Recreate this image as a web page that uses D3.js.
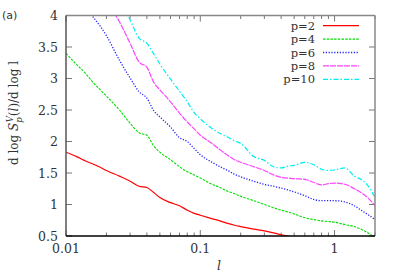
<!DOCTYPE html>
<html><head><meta charset="utf-8">
<script src="https://cdn.jsdelivr.net/npm/d3@7"></script>
<style>body{margin:0;background:#fff}svg{display:block}svg text{font-family:"DejaVu Serif","Liberation Serif",serif}</style>
</head><body>
<svg id="chart" width="399" height="279"></svg>
<script>
const lValues = [0.01,0.012,0.014,0.016,0.018,0.02,0.025,0.03,0.035,0.04,0.045,0.05,0.06,0.07,0.08,0.09,0.1,0.12,0.14,0.16,0.18,0.2,0.25,0.3,0.35,0.4,0.45,0.5,0.6,0.7,0.8,0.9,1.0,1.2,1.4,1.6,1.8,2.0];
const p2  = [1.83,1.76,1.69,1.64,1.59,1.54,1.45,1.37,1.29,1.27,1.19,1.11,1.03,0.98,0.91,0.86,0.83,0.78,0.74,0.70,0.67,0.65,0.61,0.58,0.55,0.52,0.50,0.48,0.45,null,null,null,null,null,null,null,null,null];
const p4  = [3.40,3.22,3.08,2.93,2.82,2.72,2.50,2.29,2.14,2.10,1.93,1.83,1.71,1.60,1.52,1.47,1.42,1.33,1.27,1.21,1.17,1.13,1.06,1.00,0.95,0.91,0.88,0.85,0.79,0.76,0.74,0.73,0.72,0.68,0.65,0.60,0.54,0.48];
const p6  = [null,null,4.12,3.97,3.83,3.68,3.29,3.01,2.79,2.69,2.49,2.39,2.23,2.06,2.00,1.89,1.79,1.68,1.60,1.54,1.48,1.44,1.37,1.32,1.29,1.26,1.23,1.20,1.14,1.08,1.06,1.06,1.06,1.04,0.98,0.90,0.83,0.76];
const p8  = [null,null,null,null,null,4.23,3.90,3.56,3.26,3.18,2.94,2.82,2.63,2.45,2.31,2.20,2.10,1.98,1.87,1.78,1.71,1.67,1.60,1.54,1.47,1.43,1.42,1.41,1.40,1.35,1.31,1.33,1.34,1.32,1.25,1.18,1.09,0.98];
const p10 = [null,null,null,null,null,null,4.27,3.93,3.64,3.56,3.39,3.23,2.99,2.80,2.63,2.46,2.36,2.22,2.13,2.07,2.01,1.97,1.76,1.70,1.60,1.58,1.61,1.62,1.67,1.63,1.56,1.54,1.55,1.58,1.45,1.39,1.28,1.11];
const seriesNames = ["p=2","p=4","p=6","p=8","p=10"];
const yTicks = [0.5,1,1.5,2,2.5,3,3.5,4];
const xTickLabels = ["0.01","0.1","1"];

const series = [
  {name:seriesNames[0], values:p2,  color:"#ff0000", dash:null, width:1.2},
  {name:seriesNames[1], values:p4,  color:"#00dd00", dash:"2.5,1.2", width:1.1},
  {name:seriesNames[2], values:p6,  color:"#2020ff", dash:"1.2,1.6", width:1.3},
  {name:seriesNames[3], values:p8,  color:"#ff44ff", dash:"6,1", width:1.2},
  {name:seriesNames[4], values:p10, color:"#00eeee", dash:"5,2,1.5,2", width:1.2}
];

const svg = d3.select("#chart");
const m = {left:66, right:375, top:15.5, bottom:236};
const x = d3.scaleLog().domain([0.01, 2.0]).range([m.left, m.right]);
const y = d3.scaleLinear().domain([0.5, 4]).range([m.bottom, m.top]);

svg.append("defs").append("clipPath").attr("id","clip")
  .append("rect").attr("x",m.left).attr("y",m.top).attr("width",m.right-m.left).attr("height",m.bottom-m.top);

// ticks
const minorX = [];
[0.01,0.1,1].forEach(d=>{for(let k=1;k<10;k++){const v=d*k; if(v<=2.0001) minorX.push(v);}});
const tickG = svg.append("g").attr("stroke","#777").attr("stroke-width",1);
minorX.forEach(v=>{
  const major = [0.01,0.1,1].includes(+v.toFixed(4));
  const len = major?6:3.5;
  tickG.append("line").attr("x1",x(v)).attr("x2",x(v)).attr("y1",m.bottom).attr("y2",m.bottom-len);
  tickG.append("line").attr("x1",x(v)).attr("x2",x(v)).attr("y1",m.top).attr("y2",m.top+len);
});
yTicks.forEach(v=>{
  tickG.append("line").attr("x1",m.left).attr("x2",m.left+6).attr("y1",y(v)).attr("y2",y(v));
  tickG.append("line").attr("x1",m.right).attr("x2",m.right-6).attr("y1",y(v)).attr("y2",y(v));
});

// lines
const line = d3.line().defined(d=>d[1]!==null).x(d=>x(d[0])).y(d=>y(d[1])).curve(d3.curveMonotoneX);
const lg = svg.append("g").attr("clip-path","url(#clip)");
series.forEach(s=>{
  lg.append("path").datum(lValues.map((l,i)=>[l,s.values[i]]))
    .attr("d",line).attr("fill","none").attr("stroke",s.color)
    .attr("stroke-width",s.width).attr("stroke-dasharray",s.dash);
});

// frame
svg.append("line").attr("x1",m.left).attr("x2",m.right).attr("y1",m.top).attr("y2",m.top).attr("stroke","#888").attr("stroke-width",1.5);
svg.append("line").attr("x1",m.right).attr("x2",m.right).attr("y1",m.top).attr("y2",m.bottom).attr("stroke","#888").attr("stroke-width",1.5);
svg.append("line").attr("x1",m.left).attr("x2",m.left).attr("y1",m.top).attr("y2",m.bottom).attr("stroke","#555").attr("stroke-width",1.5);
svg.append("line").attr("x1",m.left).attr("x2",m.right).attr("y1",m.bottom).attr("y2",m.bottom).attr("stroke","#000").attr("stroke-width",1.5);

// tick labels
const fs = 12.5;
yTicks.forEach(v=>{
  svg.append("text").attr("x",m.left-8).attr("y",y(v)+4.5).attr("text-anchor","end")
    .attr("font-size",fs).attr("fill","#333").text(d3.format("")(v));
});
xTickLabels.forEach(t=>{
  svg.append("text").attr("x",x(+t)).attr("y",m.bottom+17).attr("text-anchor","middle")
    .attr("font-size",fs).attr("fill","#333").text(t);
});

// axis labels
svg.append("text").attr("x",219).attr("y",270).attr("text-anchor","middle").attr("font-size",fs)
  .attr("font-style","italic").attr("fill","#333").text("l");
const yl = svg.append("text").attr("transform","translate(18,113) rotate(-90)").attr("text-anchor","middle")
  .attr("font-size",12).attr("fill","#333");
yl.append("tspan").text("d log ");
yl.append("tspan").attr("font-style","italic").text("S");
yl.append("tspan").attr("font-style","italic").attr("font-size",8.5).attr("dy",4).text("p");
yl.append("tspan").attr("font-style","italic").attr("font-size",8.5).attr("dy",-9).attr("dx",-5).text("V");
yl.append("tspan").attr("dy",5).text("(");
yl.append("tspan").attr("font-style","italic").text("l");
yl.append("tspan").text(")/d log l");

svg.append("text").attr("x",2).attr("y",19).attr("font-size",11).attr("fill","#333")
  .style("font-family","'DejaVu Sans', sans-serif").text("(a)");

// legend
series.forEach((s,i)=>{
  const ly = 25.7 + i*13.4;
  svg.append("text").attr("x",315).attr("y",ly+4).attr("text-anchor","end").attr("font-size",11.5)
    .attr("fill","#333").text(s.name);
  svg.append("line").attr("x1",323).attr("x2",359).attr("y1",ly).attr("y2",ly)
    .attr("stroke",s.color).attr("stroke-width",s.width).attr("stroke-dasharray",s.dash);
});
</script>
</body></html>
